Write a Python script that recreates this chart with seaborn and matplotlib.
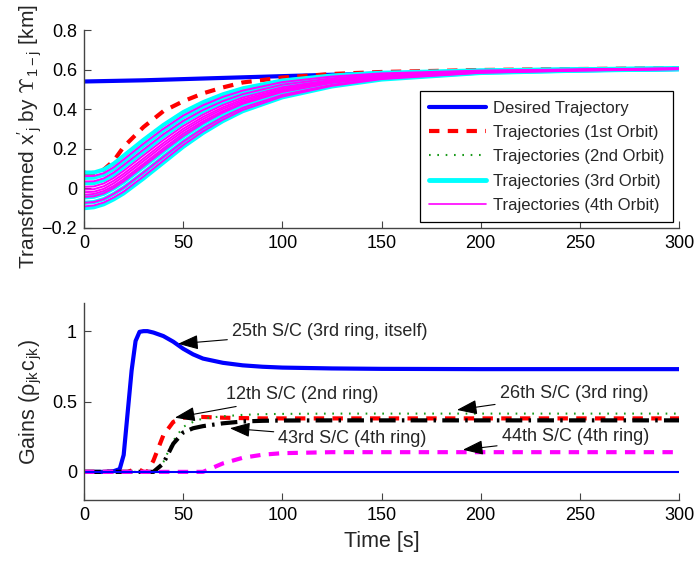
import numpy as np
import matplotlib
matplotlib.use("Agg")
import matplotlib.pyplot as plt
from matplotlib.lines import Line2D
import seaborn as sns

# ---- top panel: transformed trajectories ----
t_top = [0, 5, 10, 15, 20, 30, 40, 50, 60, 70, 80, 100, 125, 150, 200, 250, 300]

desired = [0.540, 0.541, 0.542, 0.543, 0.544, 0.546, 0.549, 0.552, 0.555, 0.558, 0.561,
           0.567, 0.574, 0.580, 0.590, 0.597, 0.603]

orbit1 = [0.075, 0.078, 0.095, 0.140, 0.210, 0.310, 0.390, 0.440, 0.480, 0.510, 0.535,
          0.560, 0.578, 0.588, 0.598, 0.603, 0.607]

orbit2 = [0.085, 0.083, 0.097, 0.127, 0.167, 0.247, 0.322, 0.387, 0.437, 0.477, 0.507,
          0.547, 0.571, 0.585, 0.596, 0.602, 0.607]

orbit3 = [
    [0.080, 0.080, 0.095, 0.125, 0.165, 0.245, 0.320, 0.385, 0.435, 0.475, 0.505,
     0.545, 0.570, 0.584, 0.596, 0.602, 0.607],
    [0.053, 0.054, 0.069, 0.098, 0.137, 0.216, 0.292, 0.359, 0.412, 0.455, 0.488,
     0.532, 0.562, 0.579, 0.594, 0.601, 0.606],
    [0.026, 0.027, 0.042, 0.070, 0.108, 0.186, 0.263, 0.333, 0.389, 0.434, 0.470,
     0.520, 0.553, 0.574, 0.592, 0.600, 0.605],
    [-0.046, -0.042, -0.027, 0.000, 0.032, 0.109, 0.187, 0.262, 0.327, 0.381, 0.425,
     0.486, 0.532, 0.561, 0.587, 0.597, 0.603],
    [-0.073, -0.069, -0.054, -0.028, 0.004, 0.079, 0.159, 0.236, 0.303, 0.360, 0.407,
     0.473, 0.523, 0.555, 0.585, 0.596, 0.603],
    [-0.100, -0.095, -0.080, -0.055, -0.025, 0.050, 0.130, 0.210, 0.280, 0.340, 0.390,
     0.460, 0.515, 0.550, 0.583, 0.595, 0.602],
]

orbit4 = [
    [0.062, 0.063, 0.077, 0.107, 0.146, 0.226, 0.301, 0.368, 0.420, 0.462, 0.494,
     0.537, 0.565, 0.581, 0.595, 0.601, 0.606],
    [0.035, 0.036, 0.051, 0.080, 0.118, 0.196, 0.273, 0.341, 0.396, 0.441, 0.476,
     0.524, 0.556, 0.576, 0.593, 0.600, 0.606],
    [0.008, 0.010, 0.025, 0.053, 0.089, 0.167, 0.244, 0.315, 0.373, 0.421, 0.459,
     0.511, 0.548, 0.570, 0.591, 0.599, 0.605],
    [-0.006, -0.004, 0.011, 0.039, 0.074, 0.151, 0.229, 0.301, 0.361, 0.410, 0.450,
     0.504, 0.544, 0.568, 0.590, 0.599, 0.605],
    [-0.019, -0.017, -0.002, 0.026, 0.061, 0.138, 0.216, 0.289, 0.350, 0.401, 0.442,
     0.498, 0.539, 0.565, 0.588, 0.598, 0.604],
    [-0.032, -0.028, -0.013, 0.013, 0.047, 0.124, 0.202, 0.277, 0.339, 0.391, 0.434,
     0.492, 0.536, 0.563, 0.588, 0.598, 0.604],
    [-0.043, -0.040, -0.025, 0.002, 0.035, 0.112, 0.190, 0.264, 0.329, 0.383, 0.427,
     0.487, 0.533, 0.562, 0.587, 0.597, 0.603],
    [-0.073, -0.069, -0.054, -0.027, 0.004, 0.081, 0.159, 0.236, 0.303, 0.360, 0.407,
     0.472, 0.523, 0.556, 0.585, 0.596, 0.603],
    [-0.091, -0.086, -0.071, -0.046, -0.016, 0.060, 0.140, 0.219, 0.288, 0.347, 0.396,
     0.464, 0.518, 0.552, 0.584, 0.595, 0.602],
]

legend_labels = ["Desired Trajectory", "Trajectories (1st Orbit)", "Trajectories (2nd Orbit)",
                 "Trajectories (3rd Orbit)", "Trajectories (4th Orbit)"]

# ---- bottom panel: gains ----
t_bot = [0, 10, 15, 18, 20, 22, 24, 26, 28, 30, 32, 35, 40, 45, 50, 55, 60, 70, 80, 90,
         100, 125, 150, 200, 250, 300]

gain_25 = [0, 0, 0.005, 0.02, 0.12, 0.42, 0.72, 0.93, 0.995, 1.0, 1.0, 0.99, 0.965, 0.925,
           0.875, 0.835, 0.805, 0.775, 0.757, 0.747, 0.741, 0.735, 0.732, 0.73, 0.73, 0.73]
gain_12 = [0, 0, 0, 0, 0, 0, 0.01, 0.02, 0.015, 0.0, 0.0, 0.08, 0.26, 0.355, 0.385, 0.39,
           0.39, 0.385, 0.382, 0.38, 0.38, 0.38, 0.38, 0.38, 0.38, 0.38]
gain_26 = [0, 0, 0, 0, 0, 0, 0, 0, 0, 0, 0, 0, 0.07, 0.22, 0.32, 0.355, 0.38, 0.395, 0.405,
           0.41, 0.412, 0.414, 0.414, 0.414, 0.414, 0.414]
gain_43 = [0, 0, 0, 0, 0, 0, 0, 0, 0, 0, 0, 0, 0.06, 0.20, 0.28, 0.31, 0.325, 0.345, 0.358,
           0.363, 0.365, 0.366, 0.366, 0.366, 0.366, 0.366]
gain_44 = [0, 0, 0, 0, 0, 0, 0, 0, 0, 0, 0, 0, 0, 0, 0, 0, 0.0, 0.06, 0.10, 0.122, 0.133,
           0.14, 0.14, 0.14, 0.14, 0.14]
gain_zero = [0] * len(t_bot)

notes = ["25th S/C (3rd ring, itself)", "12th S/C (2nd ring)", "43rd S/C (4th ring)",
         "26th S/C (3rd ring)", "44th S/C (4th ring)"]
note_tips = [(47.4, 0.91), (45.8, 0.385), (73.5, 0.31), (188, 0.44), (191, 0.157)]
note_text = [(74.6, 1.0), (71.5, 0.55), (98, 0.24), (209.6, 0.56), (210.6, 0.25)]

x_ticks = [0, 50, 100, 150, 200, 250, 300]
top_yticks = [-0.2, 0, 0.2, 0.4, 0.6, 0.8]
top_ylabels = ["\u22120.2", "0", "0.2", "0.4", "0.6", "0.8"]
bot_yticks = [0, 0.5, 1]
bot_ylabels = ["0", "0.5", "1"]

sns.set_style("ticks")
plt.rcParams["font.family"] = ["Liberation Sans", "DejaVu Sans"]
plt.rcParams["mathtext.fontset"] = "cm"

BLUE, RED, GREEN, CYAN, MAG = "#0000ff", "#ff0000", "#1a9a1a", "#00ffff", "#ff00ff"
SPINE = "#444444"

fig = plt.figure(figsize=(6.96, 5.61), dpi=100)
ax1 = fig.add_axes([0.1207, 0.5936, 0.8549, 0.3529])
ax2 = fig.add_axes([0.1207, 0.1087, 0.8549, 0.3512])

# top panel
sns.lineplot(x=t_top, y=desired, ax=ax1, color=BLUE, lw=3, errorbar=None)
sns.lineplot(x=t_top, y=orbit1, ax=ax1, color=RED, lw=3, ls=(0, (2.5, 2)), errorbar=None)
sns.lineplot(x=t_top, y=orbit2, ax=ax1, color=GREEN, lw=1.5, ls=(0, (0.8, 3.2)), errorbar=None)
for c in orbit3:
    sns.lineplot(x=t_top, y=c, ax=ax1, color=CYAN, lw=3, errorbar=None)
for c in orbit4:
    sns.lineplot(x=t_top, y=c, ax=ax1, color=MAG, lw=1.4, errorbar=None)

handles = [
    Line2D([], [], color=BLUE, lw=3),
    Line2D([], [], color=RED, lw=3, ls=(0, (2.5, 2))),
    Line2D([], [], color=GREEN, lw=1.5, ls=(0, (0.8, 3.2))),
    Line2D([], [], color=CYAN, lw=3.5),
    Line2D([], [], color=MAG, lw=1.2),
]
leg = ax1.legend(handles, legend_labels, loc="lower right", fontsize=12, fancybox=False,
                 framealpha=1, edgecolor="black", handlelength=3.4, labelspacing=0.56,
                 borderaxespad=0.35, handletextpad=0.4, borderpad=0.55)
leg.get_frame().set_linewidth(0.9)

ax1.set_xlim(0, 300)
ax1.set_ylim(-0.2, 0.8)
ax1.set_yticks(top_yticks)
ax1.set_yticklabels(top_ylabels)
ax1.set_ylabel(r"Transformed $\mathregular{x'_{j}}$ by $\Upsilon_{\mathregular{1-j}}$ [km]",
               fontsize=15)
ax1.yaxis.set_label_coords(-0.068, 0.46)

# bottom panel
sns.lineplot(x=t_bot, y=gain_25, ax=ax2, color=BLUE, lw=3, errorbar=None)
sns.lineplot(x=t_bot, y=gain_12, ax=ax2, color=RED, lw=3, ls=(0, (2.5, 2)), errorbar=None)
sns.lineplot(x=t_bot, y=gain_26, ax=ax2, color=GREEN, lw=1.5, ls=(0, (0.8, 3.2)), errorbar=None)
sns.lineplot(x=t_bot, y=gain_43, ax=ax2, color="black", lw=3, ls=(0, (4, 1.5, 0.6, 1.5)),
             errorbar=None)
sns.lineplot(x=t_bot, y=gain_44, ax=ax2, color=MAG, lw=3, ls=(0, (2.5, 2)), errorbar=None)
sns.lineplot(x=t_bot, y=gain_zero, ax=ax2, color=BLUE, lw=1.5, errorbar=None)

for txt, tip, pos in zip(notes, note_tips, note_text):
    ax2.annotate(txt, xy=tip, xytext=pos, fontsize=13, va="center", ha="left",
                 arrowprops=dict(arrowstyle="-|>,head_length=0.5,head_width=0.18",
                                 mutation_scale=25, color="black", lw=0.8,
                                 shrinkA=1, shrinkB=0))

ax2.set_xlim(0, 300)
ax2.set_ylim(-0.2, 1.2)
ax2.set_yticks(bot_yticks)
ax2.set_yticklabels(bot_ylabels)
ax2.set_ylabel(r"Gains (ρ$_\mathregular{jk}$c$_\mathregular{jk}$)", fontsize=15.5)
ax2.yaxis.set_label_coords(-0.068, 0.5)
ax2.set_xlabel("Time [s]", fontsize=15.5, labelpad=5)

for ax in (ax1, ax2):
    ax.set_xticks(x_ticks)
    sns.despine(ax=ax)
    for s in ("left", "bottom"):
        ax.spines[s].set_color(SPINE)
        ax.spines[s].set_linewidth(1.0)
    ax.tick_params(direction="in", length=5, width=0.8, color=SPINE, labelsize=13,
                   labelcolor="black", pad=5)

fig.savefig("out.png", dpi=100)
